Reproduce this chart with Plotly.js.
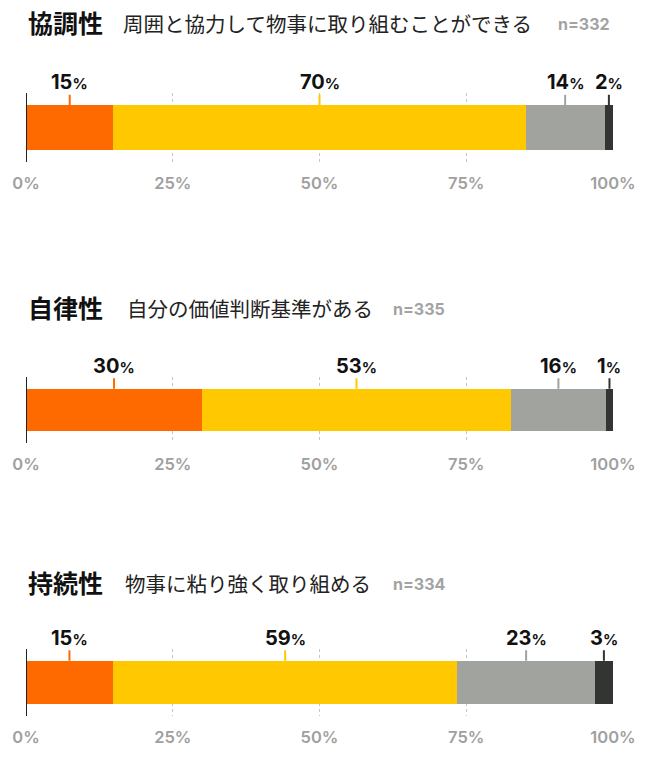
<!DOCTYPE html>
<html>
<head>
<meta charset="utf-8">
<script src="https://cdn.plot.ly/plotly-3.0.1.min.js"></script>
<style>html,body{margin:0;padding:0;background:#fff;}#chart{width:655px;height:758px;}</style>
</head>
<body>
<div id="chart"></div>
<script>
// ---- data ----
const categories = ['協調性', '自律性', '持続性'];
const subtitles = ['周囲と協力して物事に取り組むことができる', '自分の価値判断基準がある', '物事に粘り強く取り組める'];
const nLabels = ['n=332', 'n=335', 'n=334'];
const seriesNames = ['とてもあてはまる', 'ややあてはまる', 'あまりあてはまらない', 'まったくあてはまらない'];
// segment widths
const s1 = [14.9, 30.0, 14.8];
const s2 = [70.2, 52.6, 58.7];
const s3 = [13.5, 16.2, 23.4];
const s4 = [1.4, 1.2, 3.1];
// printed labels
const l1 = [15, 30, 15];
const l2 = [70, 53, 59];
const l3 = [14, 16, 23];
const l4 = [2, 1, 3];
const tickVals = [0, 25, 50, 75, 100];
const tickText = ['0%', '25%', '50%', '75%', '100%'];

// ---- style ----
const colors = ['#FF6A00', '#FFC800', '#A0A39E', '#333532'];
const H = 758;
const domainsPx = [[93, 162], [377, 443], [649, 716]];
const titleY = [22, 307, 582];
const subX = [121, 125, 123];
const nX = [556, 391, 391];
const L = 26, R = 613, W = 655;
const px2x = p => (p - L) / (R - L);
const py2y = p => 1 - p / H;
const numFont = 'Inter, "Noto Sans", "Noto Sans CJK JP", sans-serif';
const jpFont = '"Noto Sans CJK JP", sans-serif';

const series = [s1, s2, s3, s4];
const labels = [l1, l2, l3, l4];
const traces = [];
const annotations = [];
const shapes = [];
const layout = {
  width: 655, height: 758,
  margin: {l: L, r: W - R, t: 0, b: 0},
  paper_bgcolor: '#fff', plot_bgcolor: 'rgba(0,0,0,0)',
  barmode: 'stack', bargap: 0, showlegend: false,
  annotations: annotations, shapes: shapes
};

categories.forEach((cat, i) => {
  const sfx = i === 0 ? '' : String(i + 1);
  const xa = 'x' + sfx, ya = 'y' + sfx;
  series.forEach((s, k) => {
    traces.push({
      type: 'bar', orientation: 'h',
      x: [s[i]], y: [0], width: 1,
      name: seriesNames[k],
      marker: {color: colors[k], line: {width: 0}},
      xaxis: xa, yaxis: ya, hoverinfo: 'x+name'
    });
  });
  layout['xaxis' + sfx] = {
    domain: [0, 1], anchor: ya, range: [0, 100],
    tickvals: tickVals, ticktext: tickText, ticks: '',
    ticklabelstandoff: 9,
    tickfont: {family: numFont, size: 16.5, color: '#A0A0A0', weight: 600},
    showgrid: true, gridcolor: '#C4C4C4', griddash: 'dot', gridwidth: 1,
    zeroline: false, showline: false, fixedrange: true
  };
  const d = domainsPx[i];
  layout['yaxis' + sfx] = {
    domain: [py2y(d[1]), py2y(d[0])], anchor: xa,
    range: [-0.773, 0.773], visible: false, fixedrange: true
  };
  // left axis line at 0
  shapes.push({type: 'line', xref: xa, yref: ya + ' domain', x0: 0, x1: 0, y0: 0, y1: 1,
    line: {color: '#222', width: 2}, layer: 'above'});
  // value labels at segment centers
  let cum = 0;
  series.forEach((s, k) => {
    const center = cum + s[i] / 2;
    cum += s[i];
    annotations.push({
      xref: xa, yref: ya, x: center, y: 0.5,
      text: '<b>' + labels[k][i] + '<span style="font-size:15px">%</span></b>',
      showarrow: true, arrowhead: 0, arrowwidth: 2, arrowcolor: colors[k],
      ax: 0, ay: -23, standoff: 0, startstandoff: 0,
      font: {family: numFont, size: 20, color: '#111'}, borderpad: 0
    });
  });
  // titles
  annotations.push({
    xref: 'paper', yref: 'paper', x: 0, y: py2y(titleY[i]),
    xanchor: 'left', yanchor: 'middle', showarrow: false,
    text: '<b>' + cat + '</b>',
    font: {family: jpFont, size: 25, color: '#111'}
  });
  annotations.push({
    xref: 'paper', yref: 'paper', x: px2x(subX[i]), y: py2y(titleY[i] + 1),
    xanchor: 'left', yanchor: 'middle', showarrow: false,
    text: subtitles[i],
    font: {family: jpFont, size: 20.5, color: '#222'}
  });
  annotations.push({
    xref: 'paper', yref: 'paper', x: px2x(nX[i]), y: py2y(titleY[i] + 2),
    xanchor: 'left', yanchor: 'middle', showarrow: false,
    text: '<b>' + nLabels[i] + '</b>',
    font: {family: numFont, size: 16, color: '#A3A3A3'}
  });
});

Plotly.newPlot('chart', traces, layout, {displayModeBar: false, staticPlot: true});
</script>
</body>
</html>
